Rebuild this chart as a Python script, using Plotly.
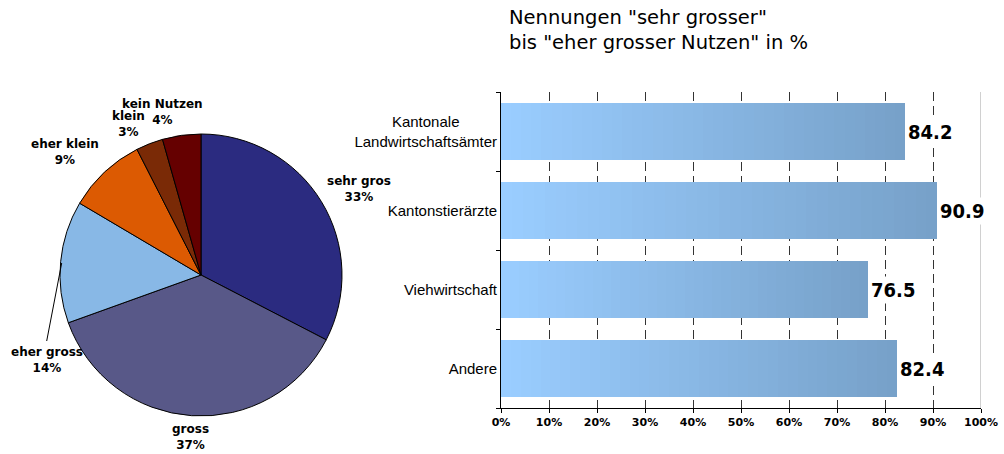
import plotly.graph_objects as go

# ---- data ----
pie_labels = ["sehr gros", "gross", "eher gross", "eher klein", "klein", "kein Nutzen"]
pie_values = [32.6, 36.9, 14.0, 9.0, 3.1, 4.4]
pie_pct_text = ["33%", "37%", "14%", "9%", "3%", "4%"]
pie_colors = ["#2b2b80", "#585888", "#88b8e6", "#dc5a02", "#7a2a06", "#650000"]

bar_categories = ["Kantonale<br>Landwirtschaftsämter", "Kantonstierärzte", "Viehwirtschaft", "Andere"]
bar_tick_text = ["Kantonale" + "\u00a0" * 9 + "<br>Landwirtschaftsämter", "Kantonstierärzte", "Viehwirtschaft", "Andere"]
bar_values = [84.2, 90.9, 76.5, 82.4]
x_ticks = [0, 10, 20, 30, 40, 50, 60, 70, 80, 90, 100]
x_tick_labels = [f"{t}%" for t in x_ticks]

title_text = 'Nennungen "sehr grosser"<br>bis "eher grosser Nutzen" in %'

W, H = 1004, 454
def px(x):
    return x / W
def py(y):
    return 1 - y / H

fig = go.Figure()

# ---- pie ----
fig.add_trace(go.Pie(
    labels=pie_labels, values=pie_values, sort=False, direction="clockwise", rotation=0,
    marker=dict(colors=pie_colors, line=dict(color="#000000", width=1)),
    textinfo="none", hoverinfo="label+percent", showlegend=False,
    domain=dict(x=[px(60), px(342)], y=[py(416), py(134)]),
))

# pie labels (positions in pixels)
label_pos = {
    "sehr gros": (359, 189),
    "gross": (190, 437),
    "eher gross": (47, 360),
    "eher klein": (65, 152),
    "klein": (128, 124),
    "kein Nutzen": (162, 112),
}
for lab, pct in zip(pie_labels, pie_pct_text):
    x, y = label_pos[lab]
    fig.add_annotation(x=px(x), y=py(y), xref="paper", yref="paper", showarrow=False,
                       text=f"<b>{lab}<br>{pct}</b>", xanchor="center", yanchor="middle",
                       align="center",
                       font=dict(family="DejaVu Sans", size=12, color="#000000"))

# leader line for "eher gross"
fig.add_shape(type="line", xref="paper", yref="paper",
              x0=px(46.7), y0=py(341), x1=px(61.7), y1=py(263),
              line=dict(color="#000000", width=1))

# ---- bars with gradient (stacked segments) ----
N = 40
c0 = (0x9a, 0xcd, 0xff)
c1 = (0x77, 0xa1, 0xc9)
for k in range(N):
    t = k / (N - 1)
    col = "rgb(%d,%d,%d)" % tuple(round(a + (b - a) * t) for a, b in zip(c0, c1))
    fig.add_trace(go.Bar(
        y=bar_categories, x=[v / N for v in bar_values], orientation="h",
        marker=dict(color=col, line=dict(width=0)), showlegend=False,
        hoverinfo="skip", xaxis="x", yaxis="y",
    ))

for cat, v in zip(bar_categories, bar_values):
    fig.add_annotation(x=v, y=cat, xref="x", yref="y", showarrow=False,
                       text=f"<b>{v:.1f}</b>", xanchor="left", yanchor="middle",
                       xshift=1, bgcolor="#ffffff", borderpad=1,
                       font=dict(family="DejaVu Sans Condensed, DejaVu Sans", size=20, color="#000000"))

# right border at 100%
fig.add_shape(type="line", xref="x", yref="paper", x0=100, x1=100,
              y0=py(408), y1=py(92), line=dict(color="#a0a0a0", width=1), layer="below")

fig.add_annotation(x=px(507), y=py(4), xref="paper", yref="paper", showarrow=False,
                   text=title_text, xanchor="left", yanchor="top", align="left",
                   font=dict(family="DejaVu Sans", size=19.5, color="#000000"))

fig.update_layout(
    width=W, height=H, margin=dict(l=0, r=0, t=0, b=0, autoexpand=False),
    paper_bgcolor="#ffffff", plot_bgcolor="#ffffff",
    barmode="stack", bargap=0.28,
    xaxis=dict(domain=[px(501), px(981)], range=[0, 100], tickvals=x_ticks, ticktext=x_tick_labels,
               showgrid=True, gridcolor="#333333", griddash="9px,5px", gridwidth=1,
               showline=True, linecolor="#000000", linewidth=1,
               ticks="outside", ticklen=4, tickcolor="#000000", automargin=False,
               tickfont=dict(family="DejaVu Sans", size=11, color="#000000", weight="bold"),
               zeroline=False, fixedrange=True),
    yaxis=dict(domain=[py(408), py(92)], autorange="reversed", tickson="boundaries",
               tickmode="array", tickvals=bar_categories, ticktext=bar_tick_text,
               showline=True, linecolor="#000000", linewidth=1,
               ticks="outside", ticklen=4, tickcolor="#000000", automargin=False,
               tickfont=dict(family="Liberation Sans", size=15, color="#000000"),
               showgrid=False, fixedrange=True),
)

fig.write_html("out.html", config={"displayModeBar": False},
               post_script="document.body.style.margin='0';document.body.style.overflow='hidden';")
